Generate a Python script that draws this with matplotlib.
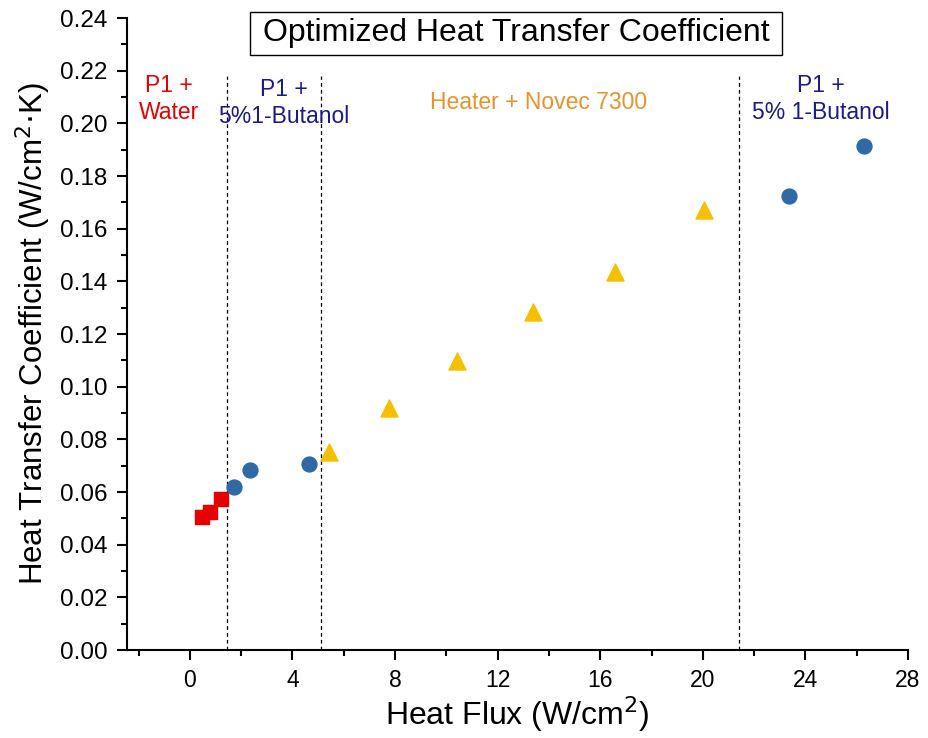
import matplotlib as mpl
mpl.use('Agg')
import matplotlib.pyplot as plt
from matplotlib.ticker import MultipleLocator
from matplotlib.patches import Rectangle

plt.rcParams['font.family'] = ['Liberation Sans', 'DejaVu Sans']

# P1 + water
water_x = [0.49, 0.78, 1.2]
water_y = [0.0506, 0.0525, 0.0572]
# P1 + 5% 1-butanol (low and high flux)
but_x = [1.74, 2.33, 4.65, 23.37, 26.3]
but_y = [0.062, 0.0684, 0.0705, 0.1725, 0.1914]
# heater + Novec 7300
nov_x = [5.43, 7.75, 10.43, 13.37, 16.59, 20.04]
nov_y = [0.0752, 0.0919, 0.1097, 0.1284, 0.1435, 0.167]
# region separators
splits = [1.45, 5.1, 21.4]

fig = plt.figure(figsize=(9.29, 7.38), dpi=100)
ax = fig.add_axes([0.1367, 0.1192, 0.8407, 0.8564])

ax.scatter(water_x, water_y, marker='s', s=95, color='#e60000', zorder=3)
ax.scatter(but_x, but_y, marker='o', s=115, color='#2f6aa7', zorder=3)
ax.scatter(nov_x, nov_y, marker='^', s=150, color='#f5c000', zorder=3)
ax.vlines(splits, 0, 0.218, color='black', ls=(0, (3, 2.5)), lw=0.9, zorder=1)

ax.set_xlim(-2.45, 28)
ax.set_ylim(0, 0.24)
ax.xaxis.set_major_locator(MultipleLocator(4))
ax.xaxis.set_minor_locator(MultipleLocator(2))
ax.yaxis.set_major_locator(MultipleLocator(0.02))
ax.yaxis.set_minor_locator(MultipleLocator(0.01))
ax.yaxis.set_major_formatter(mpl.ticker.FormatStrFormatter('%.2f'))
ax.spines['top'].set_visible(False)
ax.spines['right'].set_visible(False)
for s in ['left', 'bottom']:
    ax.spines[s].set_linewidth(1.5)
ax.tick_params(which='major', direction='out', length=7, width=1.5)
ax.tick_params(which='minor', direction='out', length=4, width=1.5)
ax.tick_params(axis='y', labelsize=17.5, pad=7)
ax.tick_params(axis='x', labelsize=16.5, pad=7)

ax.set_xlabel('Heat Flux (W/cm$^2$)', fontsize=23, labelpad=1)
ax.set_ylabel('Heat Transfer Coefficient (W/cm$^2$$\\cdot$K)', fontsize=22.5,
              labelpad=5)

# title box
ax.add_patch(Rectangle((0.1575, 0.9415), 0.6812, 0.068, transform=ax.transAxes,
                       fc='white', ec='black', lw=1, clip_on=False, zorder=4))
ax.text(0.498, 0.976, 'Optimized Heat Transfer Coefficient', transform=ax.transAxes,
        ha='center', va='center', fontsize=23, zorder=5)

ax.text(-0.8, 0.2092, 'P1 +\nWater', color='#e60000', fontsize=16.5,
        ha='center', va='center', linespacing=1.25)
ax.text(3.66, 0.2078, 'P1 +\n5%1-Butanol', color='#1a1a8c', fontsize=16.5,
        ha='center', va='center', linespacing=1.2)
ax.text(13.6, 0.2078, 'Heater + Novec 7300', color='#e8922a', fontsize=16.5,
        ha='center', va='center')
ax.text(24.6, 0.2092, 'P1 +\n5% 1-Butanol', color='#1a1a8c', fontsize=16.5,
        ha='center', va='center', linespacing=1.25)

fig.savefig('out.png', dpi=100)
